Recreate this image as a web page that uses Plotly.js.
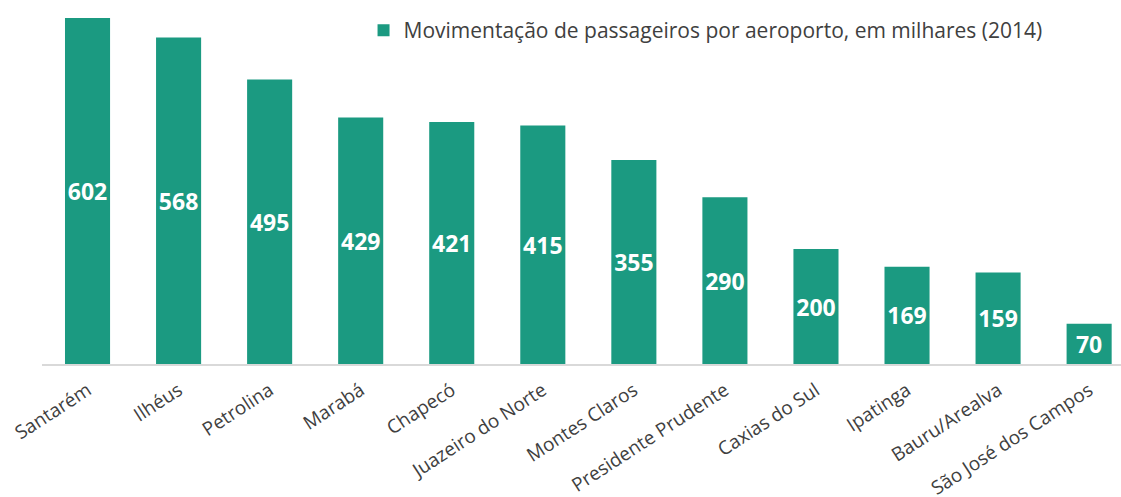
<!DOCTYPE html>
<html>
<head>
<meta charset="utf-8">
<script src="https://cdn.plot.ly/plotly-3.0.1.min.js"></script>
<style>html,body{margin:0;padding:0;background:#fff;}#chart{width:1121px;height:497px;}</style>
</head>
<body>
<div id="chart"></div>
<script>
const airports = ["Santarém","Ilhéus","Petrolina","Marabá","Chapecó","Juazeiro do Norte","Montes Claros","Presidente Prudente","Caxias do Sul","Ipatinga","Bauru/Arealva","São José dos Campos"];
const passengers = [602,568,495,429,421,415,355,290,200,169,159,70];
const seriesName = "Movimentação de passageiros por aeroporto, em milhares (2014)";

const trace = {
  type: "bar",
  x: airports,
  y: passengers,
  name: seriesName,
  showlegend: true,
  marker: {color: "#1b9a81"},
  text: passengers.map(String),
  textposition: "inside",
  insidetextanchor: "middle",
  constraintext: "none",
  textangle: 0,
  textfont: {family: "'Open Sans', sans-serif", size: 23, color: "#ffffff", weight: 700},
  hoverinfo: "x+y"
};

const layout = {
  width: 1121, height: 497,
  margin: {l: 42, r: 0, t: 10, b: 133},
  paper_bgcolor: "#ffffff", plot_bgcolor: "#ffffff",
  bargap: 0.505,
  font: {family: "'Open Sans', sans-serif", color: "#404040"},
  xaxis: {
    type: "category",
    range: [-0.5, 11.35],
    tickangle: -33,
    tickfont: {size: 19, color: "#404040"},
    ticklabelstandoff: 6,
    showline: true, linecolor: "#d9d9d9", linewidth: 2,
    ticks: "", showgrid: false, zeroline: false
  },
  yaxis: {
    range: [0, 615.9],
    visible: false, showgrid: false, zeroline: false
  },
  showlegend: true,
  legend: {
    x: 0.298, y: 1.0, xanchor: "left", yanchor: "top",
    font: {size: 21, color: "#404040"},
    bgcolor: "rgba(0,0,0,0)"
  }
};

Plotly.newPlot("chart", [trace], layout, {displayModeBar: false, staticPlot: true});
</script>
</body>
</html>
